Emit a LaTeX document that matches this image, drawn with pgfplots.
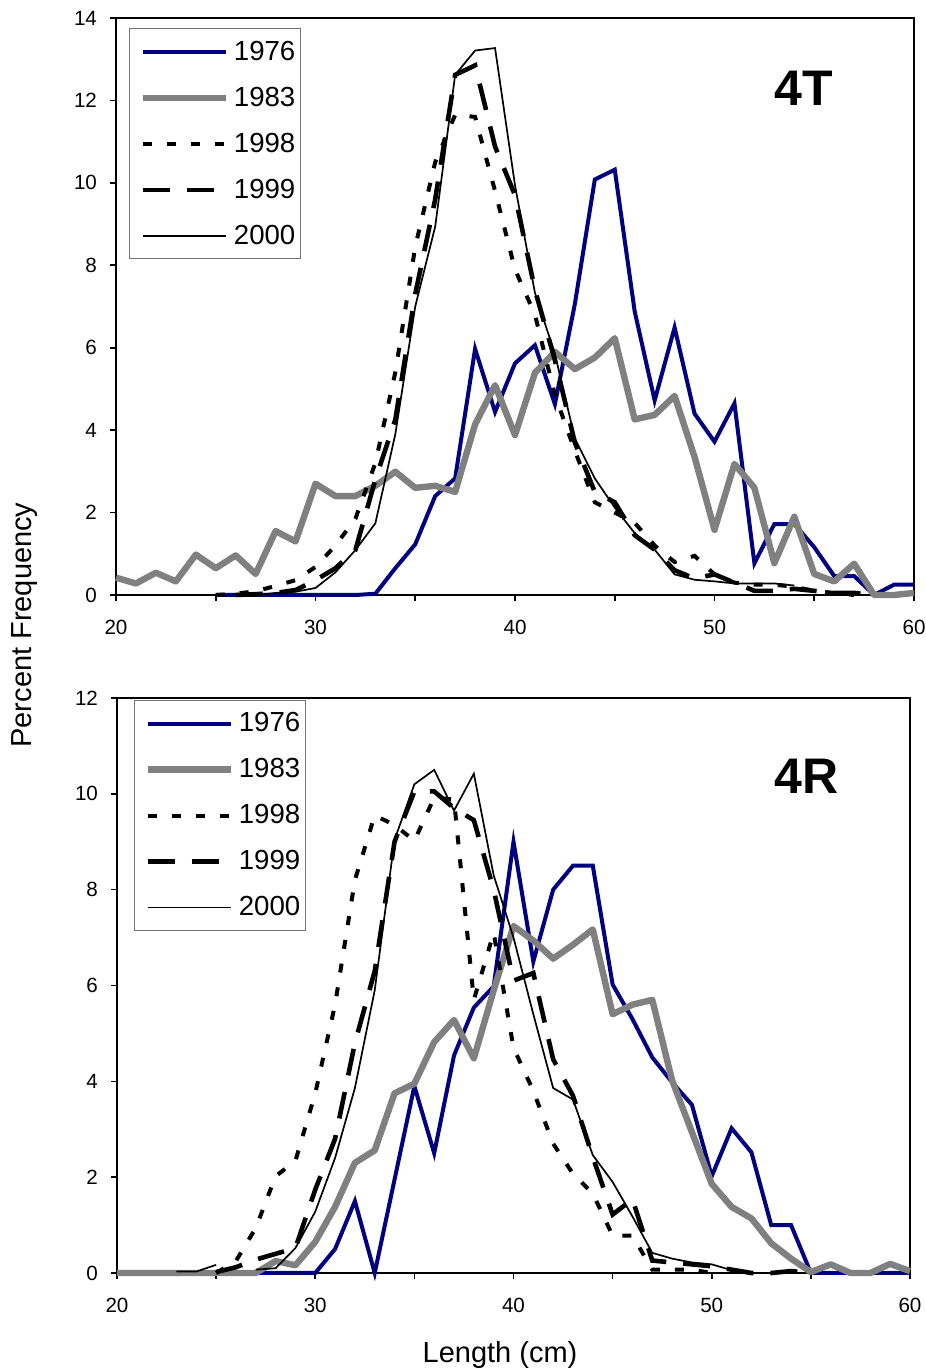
\documentclass[border=0pt]{standalone}
\usepackage{fontspec}
\setmainfont{Liberation Sans}
\usepackage{pgfplots}
\usepackage{pgfplotstable}
\pgfplotsset{compat=1.18}
\definecolor{navy}{RGB}{0,0,128}
\definecolor{grayline}{RGB}{128,128,128}

\pgfplotstableread{
x    a     b     c     d     e
20   nan   0.42  nan   nan   nan
21   nan   0.28  nan   nan   nan
22   nan   0.54  nan   nan   nan
23   nan   0.33  nan   nan   nan
24   nan   0.98  nan   nan   nan
25   0     0.65  0     nan   nan
26   0     0.96  0.03  0     0
27   0     0.51  0.09  0.02  0
28   0     1.55  0.22  0.05  0.05
29   0     1.30  0.36  0.12  0.08
30   0     2.70  0.68  0.36  0.17
31   0     2.40  1.20  0.65  0.55
32   0     2.40  1.85  1.09  1.09
33   0.03  2.65  3.20  2.80  1.74
34   0.65  2.99  5.40  4.25  3.90
35   1.23  2.60  8.45  7.30  7.00
36   2.40  2.65  10.50 9.60  8.94
37   2.83  2.50  11.65 12.62 12.62
38   5.97  4.14  11.60 12.85 13.21
39   4.44  5.09  9.80  10.88 13.27
40   5.62  3.88  7.90  9.70  9.94
41   6.06  5.39  6.80  7.40  7.33
42   4.63  5.90  4.85  5.70  5.85
43   7.06  5.48  3.50  3.70  3.80
44   10.08 5.76  2.25  2.50  2.83
45   10.32 6.23  2.00  2.25  2.12
46   6.88  4.26  1.75  1.45  1.50
47   4.72  4.37  1.20  1.10  1.10
48   6.49  4.83  0.80  0.60  0.50
49   4.40  3.35  0.95  0.40  0.37
50   3.72  1.58  0.50  0.50  0.33
51   4.65  3.18  0.30  0.30  0.28
52   0.77  2.60  0.25  0.10  0.28
53   1.72  0.77  0.25  0.10  0.28
54   1.72  1.90  0.20  0.15  0.23
55   1.16  0.51  0.10  0.10  nan
56   0.46  0.33  0.05  0.05  nan
57   0.46  0.76  0     0.05  nan
58   0     0     nan   0     nan
59   0.25  0     nan   nan   nan
60   0.25  0.05  nan   nan   nan
}\tabT

\pgfplotstableread{
x    a     b     c     d     e
20   0     0     nan   nan   nan
21   0     0     nan   nan   nan
22   0     0     nan   nan   nan
23   0     0     nan   nan   0.03
24   0     0     nan   nan   0.03
25   0     0     0     0.02  0.17
26   0     0     0.25  0.12  nan
27   0     0     0.94  0.28  0.07
28   0     0.25  2.02  0.40  0.10
29   0     0.16  2.34  0.52  0.52
30   0     0.65  3.75  1.74  1.28
31   0.50  1.38  5.60  2.80  2.40
32   1.50  2.30  8.20  4.80  3.86
33   0     2.56  9.55  6.30  5.90
34   1.95  3.75  9.35  9.00  9.04
35   3.90  3.95  9.02  10.05 10.20
36   2.50  4.82  9.92  10.05 10.50
37   4.54  5.28  9.88  9.70  9.65
38   5.54  4.48  5.70  9.45  10.42
39   5.98  5.90  7.10  8.00  8.30
40   9.00  7.24  4.70  6.10  7.00
41   6.50  6.94  3.80  6.26  5.40
42   8.00  6.56  2.70  4.46  3.86
43   8.50  6.85  2.07  3.70  3.62
44   8.50  7.17  1.66  2.42  2.46
45   6.02  5.40  0.78  1.22  1.90
46   5.30  5.60  0.78  1.54  1.18
47   4.50  5.70  0.07  0.26  0.42
48   3.98  4.02  0.07  0.22  0.30
49   3.51  2.94  0.07  0.18  0.22
50   2.02  1.86  0     0.14  0.18
51   3.02  1.38  nan   0.07  0.06
52   2.52  1.14  nan   0     0
53   1.00  0.62  nan   0     nan
54   1.00  0.30  nan   0.04  nan
55   0     0.02  nan   0     nan
56   0     0.18  nan   nan   nan
57   0     0     nan   nan   nan
58   0     0     nan   nan   nan
59   0     0.19  nan   nan   nan
60   0     0.04  nan   nan   nan
}\tabR

\pgfplotsset{
 fishaxis/.style={
  scale only axis,
  xmin=20, xmax=60, ymin=0,
  xtick={20,30,40,50,60},
  minor xtick={25,35,45,55},
  tick align=outside, tick pos=left,
  major tick length=3pt, minor tick length=3pt,
  every tick/.style={black, line width=0.8pt},
  axis line style={line width=0.8pt},
  unbounded coords=jump,
  clip=false,
  /pgf/number format/assume math mode=true,
  tick label style={font=\fontsize{10.3}{12}\selectfont},
  xticklabel style={yshift=-6pt},
  yticklabel style={xshift=-3pt},
  legend cell align=left,
  legend image code/.code={\path (0pt,0pt); \draw[##1] (5pt,0pt) -- (46.5pt,0pt);},
  legend style={draw=black!55, line width=0.5pt, inner sep=0pt,
    font=\fontsize{13.8}{16}\selectfont,
    nodes={inner xsep=2.5pt, inner ysep=0pt, minimum height=23pt},
    anchor=north west},
 },
 s1976/.style={navy, line width=2pt, sharp plot},
 s1983/.style={grayline, line width=3.2pt, sharp plot, line join=round},
 s1998/.style={black, line width=2pt, dash pattern=on 4.5pt off 7.5pt, sharp plot},
 s1999/.style={black, line width=2.3pt, dash pattern=on 13.5pt off 8.5pt, sharp plot},
 s2000/.style={black, line width=0.85pt, sharp plot},
}

\begin{document}
\begin{tikzpicture}
\useasboundingbox (0,0) rectangle (463pt,686pt);

\begin{axis}[fishaxis,
  at={(58pt,388.5pt)}, anchor=south west,
  width=399pt, height=288.5pt,
  ymax=14, ytick={0,2,...,14},
  legend style={at={(0.0163,0.982)}},
]
\addplot[s1976] table[x=x,y=a] {\tabT};
\addplot[s1983] table[x=x,y=b] {\tabT};
\addplot[s1998] table[x=x,y=c] {\tabT};
\addplot[s1999] table[x=x,y=d] {\tabT};
\addplot[s2000] table[x=x,y=e] {\tabT};
\legend{1976,1983,1998,1999,2000}
\node[font=\fontsize{25}{30}\selectfont\bfseries] at (axis cs:54.48,12.29) {4T};
\end{axis}

\begin{axis}[fishaxis,
  at={(58.5pt,49.5pt)}, anchor=south west,
  width=396.5pt, height=287.5pt,
  ymax=12, ytick={0,2,...,12},
  legend style={at={(0.0214,0.9965)}},
]
\addplot[s1976] table[x=x,y=a] {\tabR};
\addplot[s1983] table[x=x,y=b] {\tabR};
\addplot[s1998] table[x=x,y=c] {\tabR};
\addplot[s1999] table[x=x,y=d] {\tabR};
\addplot[s2000] table[x=x,y=e] {\tabR};
\legend{1976,1983,1998,1999,2000}
\node[font=\fontsize{25}{30}\selectfont\bfseries] at (axis cs:54.79,10.37) {4R};
\end{axis}

\node[rotate=90, font=\fontsize{14.5}{17}\selectfont] at (12.5pt,373.5pt) {Percent Frequency};
\node[font=\fontsize{14.5}{17}\selectfont] at (250pt,8.5pt) {Length (cm)};
\end{tikzpicture}
\end{document}
